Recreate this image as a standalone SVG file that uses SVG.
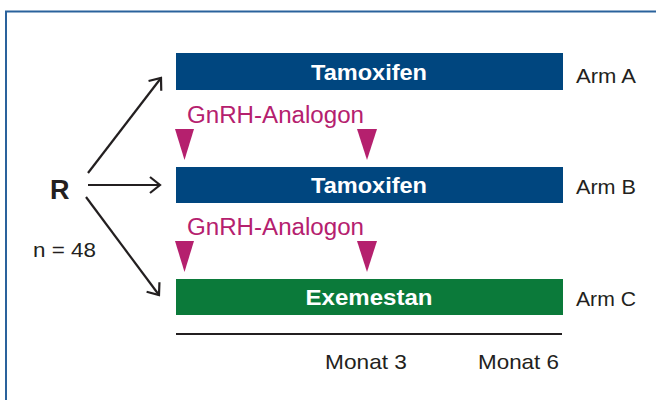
<svg xmlns="http://www.w3.org/2000/svg" width="656" height="400" viewBox="0 0 656 400">
<style>
.bar text{font-family:"Liberation Sans",Arial,sans-serif;font-weight:bold;font-size:22px;fill:#fff;text-anchor:middle}
.lbl{font-family:"Liberation Sans",Arial,sans-serif;font-size:21px;fill:#231f20}
.gnrh{font-family:"Liberation Sans",Arial,sans-serif;font-size:23px;fill:#b5206e}
.tri{fill:#b5206e}
.conn line{stroke:#231f20;stroke-width:2.2;fill:none}
</style>
<defs>
<marker id="ah" viewBox="0 0 20 20" refX="18" refY="10" markerWidth="20" markerHeight="20" markerUnits="userSpaceOnUse" orient="auto">
<path d="M8,2 L18,10 L8,18" fill="none" stroke="#231f20" stroke-width="2.2"/>
</marker>
</defs>
<rect width="656" height="400" fill="#fff"/>
<path d="M6,400 V11.5 H656" fill="none" stroke="#2a629c" stroke-width="2"/>
<g id="R"><text x="50" y="199" font-family="Liberation Sans,Arial,sans-serif" font-weight="bold" font-size="27" fill="#231f20">R</text></g>
<g id="n"><text class="lbl" x="33" y="257" textLength="63" lengthAdjust="spacingAndGlyphs">n = 48</text></g>
<g class="conn" id="connectors">
<line x1="88" y1="173" x2="161" y2="78" marker-end="url(#ah)"/>
<line x1="88" y1="185" x2="160" y2="185" marker-end="url(#ah)"/>
<line x1="86" y1="197" x2="159" y2="295" marker-end="url(#ah)"/>
</g>
<g id="armA" class="bar"><rect x="176" y="53" width="387" height="37" fill="#00467f"/><text x="369" y="80" textLength="116" lengthAdjust="spacingAndGlyphs">Tamoxifen</text></g>
<g id="armB" class="bar"><rect x="176" y="167" width="387" height="36" fill="#00467f"/><text x="369" y="193" textLength="116" lengthAdjust="spacingAndGlyphs">Tamoxifen</text></g>
<g id="armC" class="bar"><rect x="176" y="279" width="387" height="36" fill="#0b7a3a"/><text x="369" y="305" textLength="127" lengthAdjust="spacingAndGlyphs">Exemestan</text></g>
<g id="gnrh1"><text class="gnrh" x="187" y="123" textLength="177" lengthAdjust="spacingAndGlyphs">GnRH-Analogon</text>
<polygon class="tri" points="175,129 194,129 184.5,160"/><polygon class="tri" points="357,129 377,129 367,160"/></g>
<g id="gnrh2"><text class="gnrh" x="187" y="235" textLength="177" lengthAdjust="spacingAndGlyphs">GnRH-Analogon</text>
<polygon class="tri" points="175,241 194,241 184.5,272"/><polygon class="tri" points="357,241 377,241 367,272"/></g>
<g id="labels">
<text class="lbl" x="576" y="83" textLength="60" lengthAdjust="spacingAndGlyphs">Arm A</text>
<text class="lbl" x="576" y="194" textLength="60" lengthAdjust="spacingAndGlyphs">Arm B</text>
<text class="lbl" x="576" y="306" textLength="60" lengthAdjust="spacingAndGlyphs">Arm C</text>
</g>
<g id="axis"><line x1="176" y1="334" x2="562" y2="334" stroke="#231f20" stroke-width="2"/>
<text class="lbl" x="325" y="369" textLength="82" lengthAdjust="spacingAndGlyphs">Monat 3</text>
<text class="lbl" x="478" y="369" textLength="81" lengthAdjust="spacingAndGlyphs">Monat 6</text></g>
</svg>
